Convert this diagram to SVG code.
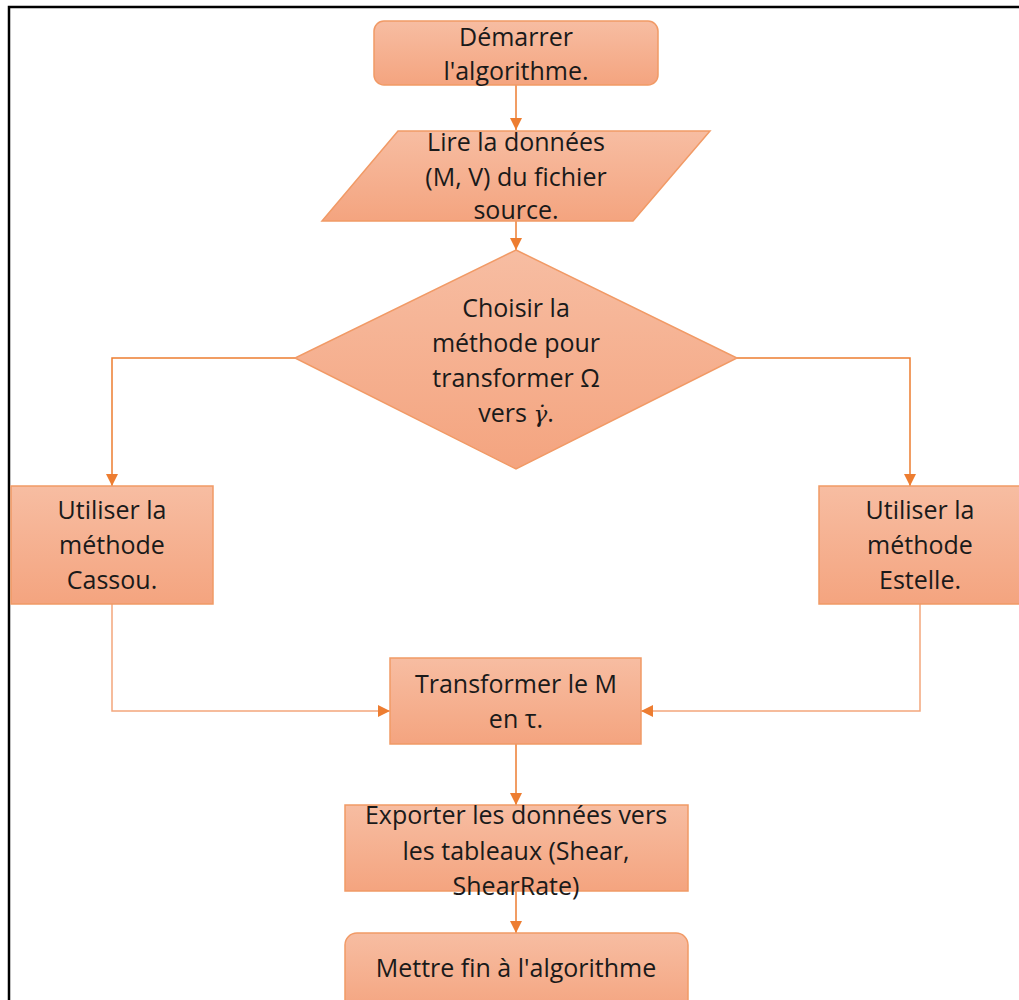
<svg xmlns="http://www.w3.org/2000/svg" width="1019" height="1000" viewBox="0 0 1019 1000">
<defs>
<linearGradient id="g" x1="0" y1="0" x2="0" y2="1">
<stop offset="0" stop-color="#F7BDA2"/>
<stop offset="1" stop-color="#F4A47F"/>
</linearGradient>
<marker id="ah" markerWidth="12" markerHeight="12" refX="12" refY="6" orient="auto" markerUnits="userSpaceOnUse">
<path d="M0,0 L12,6 L0,12 Z" fill="#ED7D31"/>
</marker>
</defs>
<style>
.n{fill:url(#g);stroke:#F19A66;stroke-width:1.5}
.c{fill:none;stroke:#ED7D31;stroke-width:1.5}
.cl{fill:none;stroke:#F4A77C;stroke-width:1.5}
text{font-family:"Open Sans","Liberation Sans",sans-serif;font-size:25px;fill:#1a1a1a;text-anchor:middle}
</style>
<rect x="0" y="0" width="1019" height="1000" fill="#fff"/>
<path d="M9,1000 V7 H1019" fill="none" stroke="#000" stroke-width="2.5"/>
<g id="connectors">
<path class="c" d="M516,85 V130" marker-end="url(#ah)"/>
<path class="c" d="M516,221 V250" marker-end="url(#ah)"/>
<path class="c" d="M295,358 H112 V486" marker-end="url(#ah)"/>
<path class="c" d="M737,358 H910 V486" marker-end="url(#ah)"/>
<path class="cl" d="M112,604 V711 H390" marker-end="url(#ah)"/>
<path class="cl" d="M920,604 V711 H641" marker-end="url(#ah)"/>
<path class="c" d="M516,744 V805" marker-end="url(#ah)"/>
<path class="c" d="M516,891 V933" marker-end="url(#ah)"/>
</g>
<g id="start">
<rect class="n" x="374" y="21" width="284" height="64" rx="10"/>
<text x="516" y="46">Démarrer</text>
<text x="516" y="80">l'algorithme.</text>
</g>
<g id="read">
<polygon class="n" points="398,131 710,131 633,221 322,221"/>
<text x="516" y="151">Lire la données</text>
<text x="516" y="186">(M, V) du fichier</text>
<text x="516" y="219">source.</text>
</g>
<g id="choose">
<polygon class="n" points="516,250 737,358 516,469 295,358"/>
<text x="516" y="317">Choisir la</text>
<text x="516" y="352">méthode pour</text>
<text x="516" y="387">transformer Ω</text>
<text x="516" y="422">vers <tspan font-family="'DejaVu Serif',serif" font-style="italic" font-size="23">γ̇</tspan>.</text>
</g>
<g id="cassou">
<rect class="n" x="11" y="486" width="202" height="118"/>
<text x="112" y="519">Utiliser la</text>
<text x="112" y="554">méthode</text>
<text x="112" y="589">Cassou.</text>
</g>
<g id="estelle">
<rect class="n" x="819" y="486" width="210" height="118"/>
<text x="920" y="519">Utiliser la</text>
<text x="920" y="554">méthode</text>
<text x="920" y="589">Estelle.</text>
</g>
<g id="transform">
<rect class="n" x="390" y="658" width="251" height="86"/>
<text x="516" y="693">Transformer le M</text>
<text x="516" y="728">en τ.</text>
</g>
<g id="export">
<rect class="n" x="345" y="805" width="343" height="86"/>
<text x="516" y="824">Exporter les données vers</text>
<text x="516" y="860">les tableaux (Shear,</text>
<text x="516" y="895">ShearRate)</text>
</g>
<g id="end">
<rect class="n" x="345" y="933" width="343" height="80" rx="12"/>
<text x="516" y="977">Mettre fin à l'algorithme</text>
</g>
</svg>
